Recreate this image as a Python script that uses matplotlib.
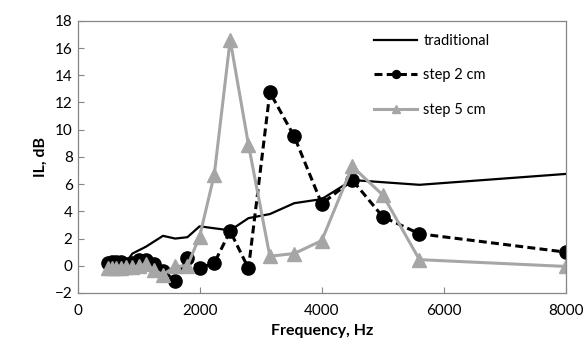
import numpy as np
import matplotlib
matplotlib.use("Agg")
import matplotlib.pyplot as plt

plt.rcParams['font.family'] = ['Lato', 'DejaVu Sans']

# tradycyjny
freq_trad = [500, 630, 800, 900, 1120, 1400, 1600, 1800, 2000, 2500, 2800, 3150, 3550, 4000, 4500, 5600, 8000]
il_trad = [-0.1, 0.0, 0.3, 0.9, 1.4, 2.2, 2.0, 2.1, 2.9, 2.6, 3.5, 3.8, 4.6, 4.9, 6.3, 5.95, 6.75]

# czestotliwosci dla wersji ze stopniami
freq_step = [500, 560, 630, 710, 800, 900, 1000, 1120, 1250, 1400, 1600, 1800, 2000, 2240,
             2500, 2800, 3150, 3550, 4000, 4500, 5000, 5600, 8000]
il_step2 = [0.2, 0.3, 0.3, 0.3, 0.1, 0.2, 0.4, 0.4, 0.1, -0.4, -1.1, 0.55, -0.15, 0.2,
            2.55, -0.2, 12.75, 9.5, 4.55, 6.3, 3.6, 2.35, 1.0]
il_step5 = [-0.2, -0.2, -0.2, -0.2, -0.1, -0.1, 0.0, 0.1, -0.3, -0.65, -0.05, 0.0, 2.15, 6.7,
            16.6, 8.9, 0.7, 0.9, 1.85, 7.3, 5.2, 0.45, -0.05]

x_ticks = [0, 2000, 4000, 6000, 8000]
y_ticks = list(range(-2, 19, 2))

fig = plt.figure(figsize=(5.85, 3.53), dpi=100)
ax = fig.add_axes([0.1325, 0.170, 0.835, 0.771])

ax.plot(freq_trad, il_trad, color='black', lw=1.6, label='traditional')
ax.plot(freq_step, il_step2, color='black', lw=2.2, ls=(0, (2.6, 1.4)), marker='o', ms=9.5,
        label='step 2 cm')
ax.plot(freq_step, il_step5, color='#A6A6A6', lw=2.2, marker='^', ms=9.5, label='step 5 cm')

ax.set_xlim(0, 8000)
ax.set_ylim(-2, 18)
ax.set_xticks(x_ticks)
ax.set_yticks(y_ticks)
ax.tick_params(direction='in', length=4, color='#868686', labelsize=11, width=0.8)
ax.tick_params(axis='x', pad=8)
for s in ax.spines.values():
    s.set_color('#868686')
    s.set_linewidth(0.9)

ax.set_xlabel('Frequency, Hz', fontsize=11.5, fontweight='bold', labelpad=4)
ax.set_ylabel('IL, dB', fontsize=11.5, fontweight='bold', labelpad=5)

leg = ax.legend(loc='upper right', frameon=False, fontsize=10.5, markerscale=0.6,
                handlelength=3.0, handletextpad=0.4, labelspacing=1.4,
                bbox_to_anchor=(0.87, 1.0))

fig.savefig('out.png', dpi=100)
